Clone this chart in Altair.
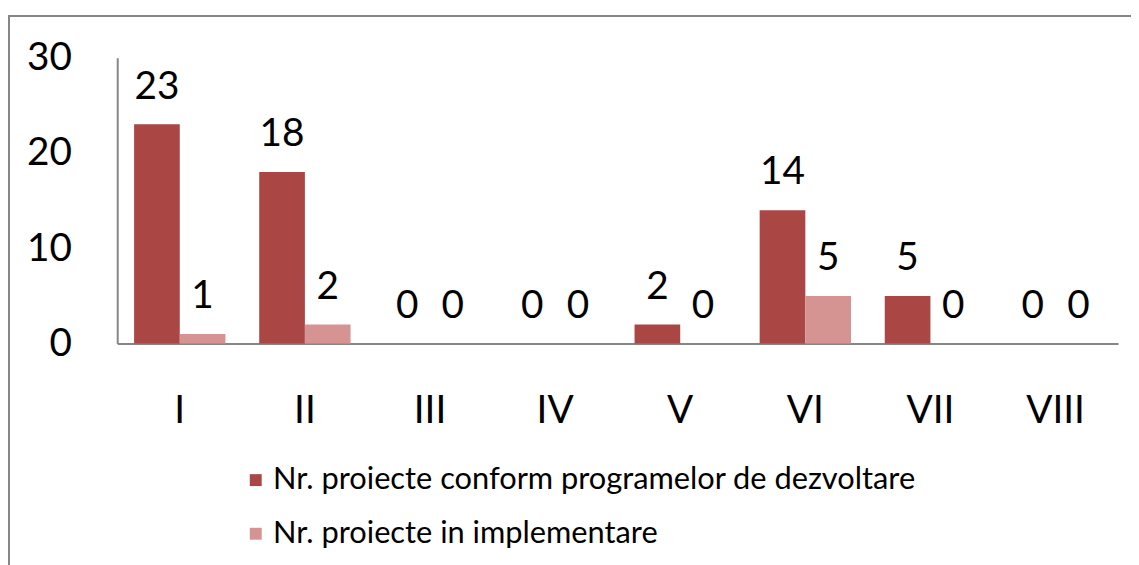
import altair as alt
import pandas as pd

categories = ["I", "II", "III", "IV", "V", "VI", "VII", "VIII"]
series_names = ["Nr. proiecte conform programelor de dezvoltare", "Nr. proiecte in implementare"]
conform = [23, 18, 0, 0, 2, 14, 5, 0]
implementare = [1, 2, 0, 0, 0, 5, 0, 0]
colors = ["#AA4643", "#D59392"]

rows = []
for c, a, b in zip(categories, conform, implementare):
    rows.append({"cat": c, "serie": series_names[0], "val": a, "ord": 0})
    rows.append({"cat": c, "serie": series_names[1], "val": b, "ord": 1})
df = pd.DataFrame(rows)

FONT = "Lato"

x = alt.X("cat:N", sort=categories, title=None,
          scale=alt.Scale(paddingInner=0.27, paddingOuter=0.135),
          axis=alt.Axis(labelAngle=0, labelFontSize=39, labelFont=FONT, labelColor="#000000",
                        ticks=False, domainColor="#868686", domainWidth=2, labelPadding=48))
xo = alt.XOffset("serie:N", sort=series_names)
y = alt.Y("val:Q", title=None,
          scale=alt.Scale(domain=[0, 30], nice=False),
          axis=alt.Axis(values=[0, 10, 20, 30], labelFontSize=39, labelFont=FONT, labelColor="#000000",
                        ticks=False, grid=False, domainColor="#868686", domainWidth=2, labelPadding=46))

bars = alt.Chart(df).mark_bar().encode(
    x=x, xOffset=xo, y=y,
    color=alt.Color("serie:N", sort=series_names,
                    scale=alt.Scale(domain=series_names, range=colors),
                    legend=alt.Legend(title=None, orient="none", legendX=124, legendY=410,
                                      direction="vertical", symbolType="square", symbolSize=144,
                                      symbolStrokeWidth=0, labelFontSize=31, labelFont=FONT,
                                      labelColor="#000000", rowPadding=22, labelOffset=2,
                                      labelLimit=0)),
)

labels = alt.Chart(df).mark_text(fontSize=39, font=FONT, color="#000000", baseline="alphabetic", dy=-26).encode(
    x=x, xOffset=xo, y=y, text="val:Q",
)

border = alt.Chart(pd.DataFrame({"a": [0]})).mark_rect(fill=None, stroke="#868686", strokeWidth=2).encode(
    x=alt.value(-109), x2=alt.value(1040), y=alt.value(-42), y2=alt.value(540)
)

chart = alt.layer(border, bars, labels).properties(
    width=1008, height=288,
    autosize=alt.AutoSizeParams(type="none"),
    padding={"left": 110, "top": 48, "right": 13, "bottom": 221},
).configure_view(stroke=None)

chart.save("out.html", embed_options={"renderer": "svg", "actions": False})
